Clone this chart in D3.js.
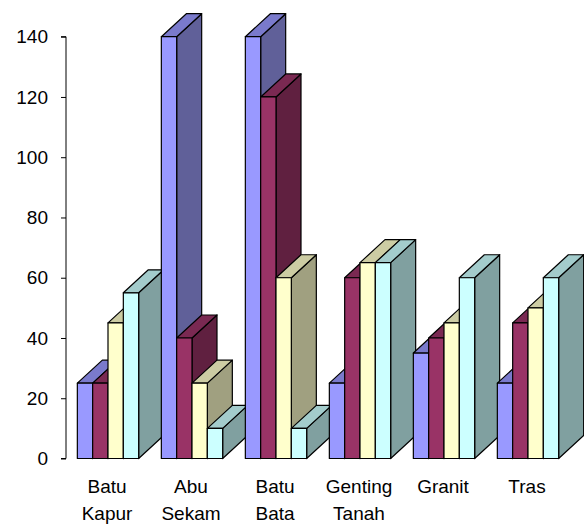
<!DOCTYPE html>
<html>
<head>
<meta charset="utf-8">
<script src="https://cdnjs.cloudflare.com/ajax/libs/d3/7.8.5/d3.min.js"></script>
<style>
	body { margin: 0; background: #fff; }
	text { font-family: "Liberation Sans", Arial, sans-serif; fill: #000; }
</style>
</head>
<body>
<script>
var categories = ["Batu Kapur", "Abu Sekam", "Batu Bata", "Genting Tanah", "Granit", "Tras"];
var series1 = [25, 140, 140, 25, 35, 25];
var series2 = [25, 40, 120, 60, 40, 45];
var series3 = [45, 25, 60, 65, 45, 50];
var series4 = [55, 10, 10, 65, 60, 60];
var yTicks = [0, 20, 40, 60, 80, 100, 120, 140];

// front, top, side colors per series
var colors = [
	{front: "#9999FF", top: "#7A7ACC", side: "#606099"},
	{front: "#993366", top: "#7A2952", side: "#602040"},
	{front: "#FFFFCC", top: "#CCCCA3", side: "#A0A080"},
	{front: "#CCFFFF", top: "#A3CCCC", side: "#80A0A0"}
];
var allSeries = [series1, series2, series3, series4];

var width = 584, height = 524;
var depthX = 25, depthY = 23;

var svg = d3.select("body").append("svg")
	.attr("width", width)
	.attr("height", height);

var x = d3.scaleBand()
	.domain(categories)
	.range([66, 570])
	.paddingInner(0.27)
	.paddingOuter(0.135);

var xSub = d3.scaleBand()
	.domain(d3.range(allSeries.length))
	.range([0, x.bandwidth()]);

var y = d3.scaleLinear()
	.domain([0, 140])
	.range([458.5, 36.7]);

// y axis
var yAxis = d3.axisLeft(y)
	.tickValues(yTicks)
	.tickSize(5)
	.tickPadding(13);

var axisG = svg.append("g")
	.attr("transform", "translate(66,0)")
	.call(yAxis);
axisG.select(".domain").attr("d", "M-5," + y(140) + "H0V" + y(0) + "H-5").attr("stroke", "#000");
axisG.selectAll(".tick line").attr("stroke", "#000");
axisG.selectAll(".tick text")
	.style("font-size", "19px")
	.attr("font-family", null);

// bar data, left to right so that each bar covers its neighbour's side
var bars = [];
for (var i = 0; i < categories.length; i++) {
	for (var j = 0; j < allSeries.length; j++) {
		bars.push({cat: categories[i], s: j, value: allSeries[j][i]});
	}
}

var barG = svg.selectAll(".bar")
	.data(bars).enter()
	.append("g")
		.attr("class", "bar");

function pts(arr) {
	return arr.map(function(p) { return p.join(","); }).join(" ");
}

barG.append("polygon")
	.attr("points", function(d) {
		var x0 = x(d.cat) + xSub(d.s), x1 = x0 + xSub.bandwidth();
		var y0 = y(0), y1 = y(d.value);
		return pts([[x1, y0], [x1, y1], [x1 + depthX, y1 - depthY], [x1 + depthX, y0 - depthY]]);
	})
	.attr("fill", function(d) { return colors[d.s].side; });

barG.append("polygon")
	.attr("points", function(d) {
		var x0 = x(d.cat) + xSub(d.s), x1 = x0 + xSub.bandwidth();
		var y1 = y(d.value);
		return pts([[x0, y1], [x1, y1], [x1 + depthX, y1 - depthY], [x0 + depthX, y1 - depthY]]);
	})
	.attr("fill", function(d) { return colors[d.s].top; });

barG.append("rect")
	.attr("x", function(d) { return x(d.cat) + xSub(d.s); })
	.attr("y", function(d) { return y(d.value); })
	.attr("width", xSub.bandwidth())
	.attr("height", function(d) { return y(0) - y(d.value); })
	.attr("fill", function(d) { return colors[d.s].front; });

barG.selectAll("polygon, rect")
	.attr("stroke", "#000")
	.attr("stroke-width", 1.2)
	.attr("stroke-linejoin", "round");

// category labels, two lines
var labels = svg.selectAll(".catLabel")
	.data(categories).enter()
	.append("text")
		.attr("class", "catLabel")
		.attr("text-anchor", "middle")
		.style("font-size", "19px");

labels.selectAll("tspan")
	.data(function(d) {
		return d.split(" ").map(function(w) { return {cat: d, word: w}; });
	}).enter()
	.append("tspan")
		.attr("x", function(d) { return x(d.cat) + x.bandwidth() / 2 - 1; })
		.attr("y", function(d, k) { return 493 + k * 27.4; })
		.text(function(d) { return d.word; });
</script>
</body>
</html>
